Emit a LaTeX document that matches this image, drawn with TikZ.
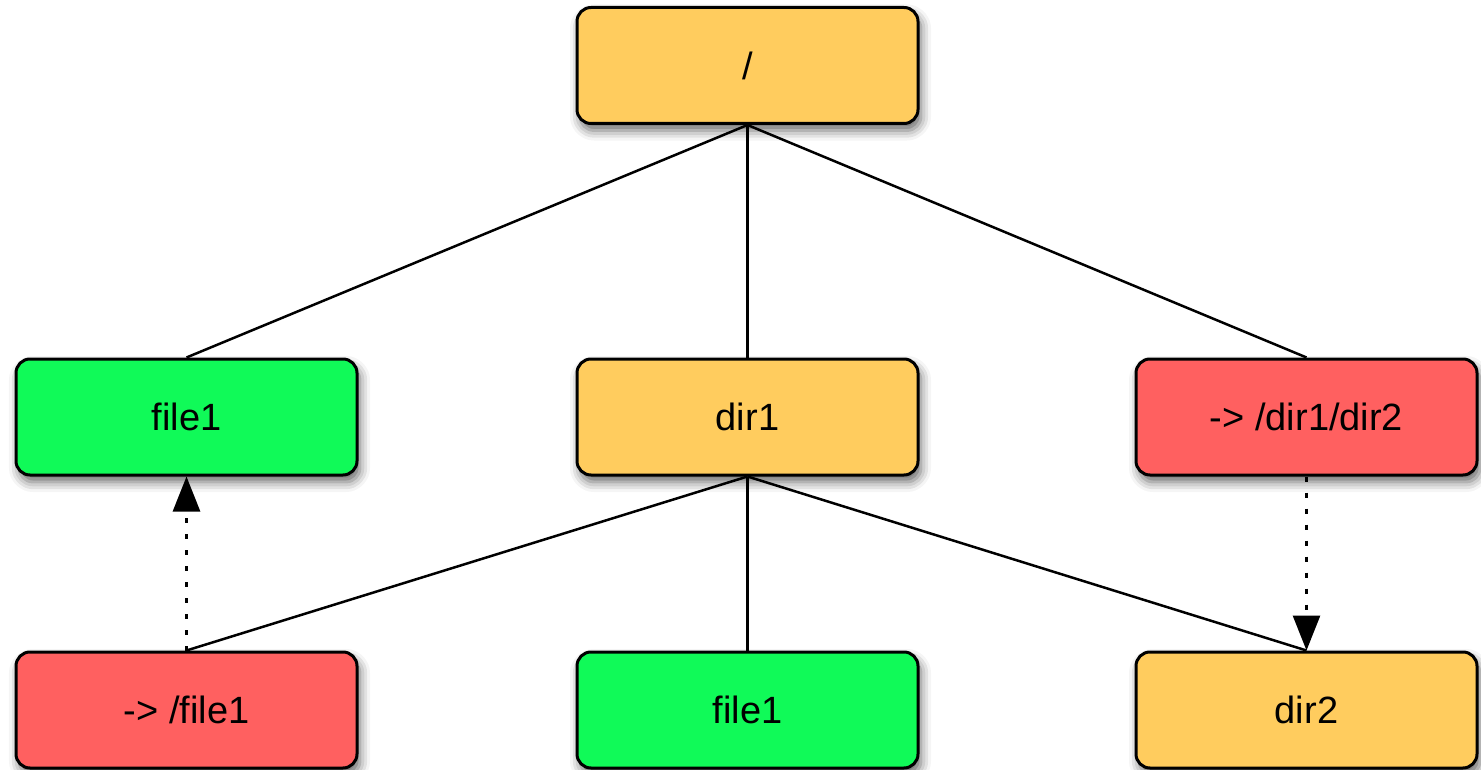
\documentclass[tikz,border=0pt]{standalone}
\usepackage{fontspec}
\setmainfont{Liberation Sans}
\usetikzlibrary{arrows.meta,shadows.blur}

\definecolor{dirfill}{RGB}{255,204,94}
\definecolor{filefill}{RGB}{16,250,88}
\definecolor{linkfill}{RGB}{255,96,96}

\begin{document}
\begin{tikzpicture}[%
        x=1pt, y=-1pt,
        entry/.style={shape=rectangle, rounded corners=14pt, draw=black,
            line width=3pt, minimum width=341pt, minimum height=116pt,
            inner sep=0pt, font=\fontsize{38}{46}\selectfont,
            blur shadow={shadow xshift=3pt, shadow yshift=-7pt,
                shadow blur radius=10pt, shadow opacity=60}},
        dirbox/.style={entry, fill=dirfill},
        filebox/.style={entry, fill=filefill},
        linkbox/.style={entry, fill=linkfill},
        treeline/.style={line width=2.5pt},
        symlink/.style={line width=2.8pt, dash pattern=on 5pt off 11pt,
            -{Triangle[width=27pt,length=35pt]}}
    ]
        \useasboundingbox (0,0) rectangle (1481,770);

        % tree nodes
        \node [dirbox]  (root)   at (747.5,65.5) {/};
        \node [filebox] (file1)  at (186.5,417)  {file1};
        \node [dirbox]  (dir1)   at (747.5,417)  {dir1};
        \node [linkbox] (lnkdir) at (1306.5,417) {-> /dir1/dir2};
        \node [linkbox] (lnkfile) at (186.5,710) {-> /file1};
        \node [filebox] (subfile) at (747.5,710) {file1};
        \node [dirbox]  (dir2)   at (1306.5,710) {dir2};

        % parent -- child
        \foreach \p/\c in {root/file1, root/dir1, root/lnkdir,
                           dir1/lnkfile, dir1/subfile, dir1/dir2}
            \draw [treeline] (\p.south) -- (\c.north);

        % link targets
        \draw [symlink] (lnkfile.north) -- (file1.south);
        \draw [symlink] (lnkdir.south) -- (dir2.north);
    \end{tikzpicture}
\end{document}
